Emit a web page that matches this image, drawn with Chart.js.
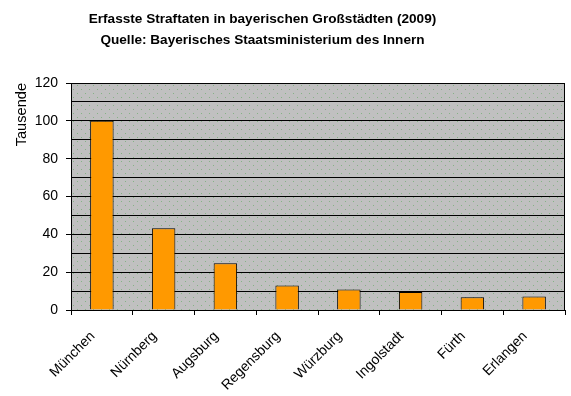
<!DOCTYPE html>
<html>
<head>
<meta charset="utf-8">
<script src="https://cdn.jsdelivr.net/npm/chart.js@4/dist/chart.umd.min.js"></script>
<style>
  body { margin: 0; background: #fff; }
  #wrap { position: relative; width: 571px; height: 396px; }
  #title {
    position: absolute; left: 0; top: 0; width: 525px;
    padding-top: 8px;
    text-align: center;
    font: bold 13.6px Arial, "Liberation Sans", sans-serif;
    line-height: 21px;
    color: #000;
  }
</style>
</head>
<body>
<div id="wrap">
  <canvas id="chart" width="571" height="396"></canvas>
  <div id="title">Erfasste Straftaten in bayerischen Großstädten (2009)<br>Quelle: Bayerisches Staatsministerium des Innern</div>
</div>
<script>
// Städte und erfasste Straftaten (in Tausend)
var cities = ['München', 'Nürnberg', 'Augsburg', 'Regensburg', 'Würzburg', 'Ingolstadt', 'Fürth', 'Erlangen'];
var offences = [100, 43.2, 24.7, 13.0, 10.9, 9.5, 6.7, 7.2];
var yLabel = 'Tausende';

var font = 'Arial, "Liberation Sans", sans-serif';

// grey background with little green dots, like the old excel pattern
function dotPattern(ctx) {
  var c = document.createElement('canvas');
  c.width = 8; c.height = 8;
  var p = c.getContext('2d');
  p.fillStyle = '#c0c0c0';
  p.fillRect(0, 0, 8, 8);
  p.fillStyle = '#86b286';
  p.fillRect(1, 1, 1, 1);
  p.fillRect(5, 5, 1, 1);
  return ctx.createPattern(c, 'repeat');
}

var plotBg = {
  id: 'plotBg',
  beforeDraw: function(chart) {
    var a = chart.chartArea, ctx = chart.ctx;
    ctx.save();
    ctx.fillStyle = dotPattern(ctx);
    ctx.fillRect(a.left, a.top, a.right - a.left, a.bottom - a.top);
    ctx.restore();
  },
  afterDraw: function(chart) {
    var a = chart.chartArea, ctx = chart.ctx;
    ctx.save();
    ctx.strokeStyle = '#000';
    ctx.lineWidth = 1;
    ctx.beginPath();
    ctx.moveTo(Math.round(a.right) - 0.5, a.top);
    ctx.lineTo(Math.round(a.right) - 0.5, a.bottom);
    ctx.stroke();
    ctx.restore();
  }
};

Chart.defaults.color = '#000';
Chart.defaults.font.family = font;

new Chart(document.getElementById('chart'), {
  type: 'bar',
  data: {
    labels: cities,
    datasets: [{
      data: offences,
      backgroundColor: '#ff9900',
      borderColor: '#000',
      borderWidth: 1,
      categoryPercentage: 1,
      barPercentage: 0.38
    }]
  },
  options: {
    responsive: false,
    animation: false,
    devicePixelRatio: 1,
    layout: { padding: { top: 83, right: 6, left: 0, bottom: 0 } },
    plugins: {
      legend: { display: false },
      tooltip: { enabled: false }
    },
    scales: {
      x: {
        afterFit: function(s) { s.height = 86; },
        grid: {
          offset: true,
          drawOnChartArea: false,
          color: '#000',
          tickLength: 5
        },
        border: { color: '#000', width: 1 },
        ticks: {
          minRotation: 45,
          maxRotation: 45,
          padding: 13,
          labelOffset: -9,
          font: { size: 14, family: font }
        }
      },
      y: {
        min: 0,
        max: 120,
        afterFit: function(s) { s.width = 71; },
        ticks: {
          stepSize: 10,
          autoSkip: false,
          padding: 8,
          font: { size: 14, family: font },
          callback: function(v) { return v % 20 === 0 ? v : ''; }
        },
        grid: {
          color: '#000',
          tickLength: 5,
          tickColor: function(c) { return c.tick && c.tick.value % 20 === 0 ? '#000' : 'rgba(0,0,0,0)'; }
        },
        border: { color: '#000', width: 1 },
        title: {
          display: true,
          text: yLabel,
          align: 'end',
          padding: { top: 13, bottom: 0 },
          font: { size: 14.6, family: font }
        }
      }
    }
  },
  plugins: [plotBg]
});
</script>
</body>
</html>
